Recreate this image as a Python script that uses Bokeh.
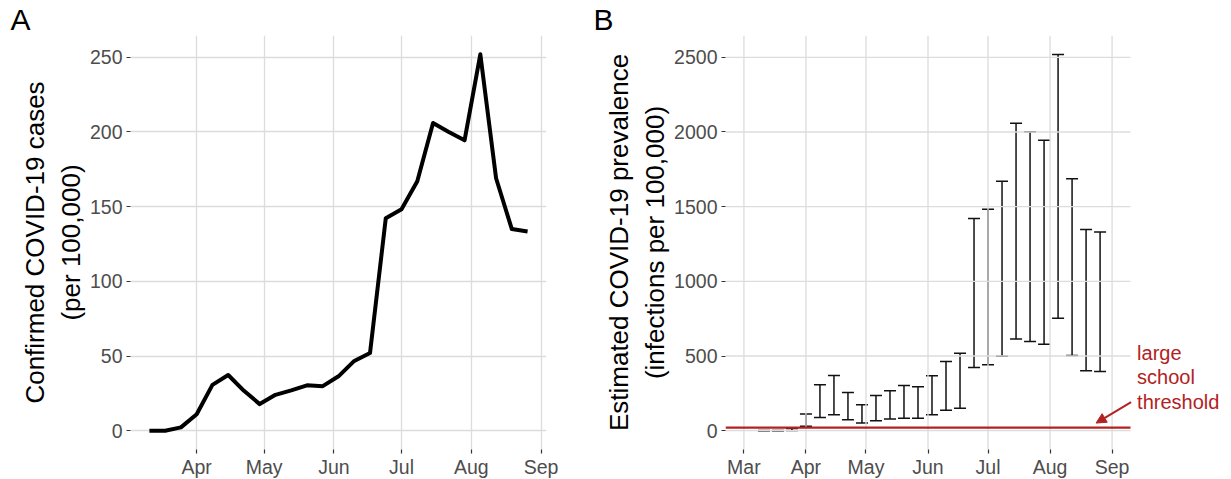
import pandas as pd
from bokeh.plotting import figure
from bokeh.layouts import row
from bokeh.models import (Range1d, FixedTicker, DatetimeTickFormatter, Whisker, TeeHead,
                          ColumnDataSource, Arrow, NormalHead)
from bokeh.core.properties import value
from bokeh.embed import file_html
from bokeh.resources import INLINE

# ---------------- data ----------------
dates = ["2020-03-11", "2020-03-18", "2020-03-25", "2020-04-01", "2020-04-08",
         "2020-04-15", "2020-04-22", "2020-04-29", "2020-05-06", "2020-05-13",
         "2020-05-20", "2020-05-27", "2020-06-03", "2020-06-10", "2020-06-17",
         "2020-06-24", "2020-07-01", "2020-07-08", "2020-07-15", "2020-07-22",
         "2020-07-29", "2020-08-05", "2020-08-12", "2020-08-19", "2020-08-26"]
cases = [0, 0, 2.2, 11, 30.7, 37.3, 26.7, 17.8, 24, 27, 30.4, 29.8, 36.4, 46.7, 52,
         142.2, 148.2, 167, 206, 200, 194.4, 252, 169, 135, 133.3]
prev_lower = [0, 0, 1, 29, 89, 107, 73, 51, 67, 78, 84, 84, 107, 136, 151,
              423, 441, 498, 614, 597, 579, 752, 503, 401, 396]
prev_upper = [2, 2, 17, 111, 307, 369, 256, 174, 236, 267, 303, 294, 367, 463, 518,
              1420, 1483, 1670, 2059, 2001, 1944, 2518, 1687, 1347, 1331]
month_ticks = ["2020-03-01", "2020-04-01", "2020-05-01", "2020-06-01",
               "2020-07-01", "2020-08-01", "2020-09-01"]
ticks_a = [0, 50, 100, 150, 200, 250]
ticks_b = [0, 500, 1000, 1500, 2000, 2500]
threshold = 20
threshold_lines = ["large", "school", "threshold"]
label_a = "Confirmed COVID-19 cases\n(per 100,000)"
label_b = "Estimated COVID-19 prevalence\n(infections per 100,000)"


def ms(s):
    return pd.Timestamp(s).value / 1e6


DAY = 86400000.0
FONT = "Liberation Sans"
RED = "#b22222"
GRID = "#dcdcdc"
BAR = "#111111"

x = [ms(d) for d in dates]
mticks = [ms(d) for d in month_ticks]


def style(p, yticks, letter, offset):
    p.outline_line_color = None
    p.background_fill_color = "white"
    p.border_fill_color = "white"
    for ax in (p.xaxis[0], p.yaxis[0]):
        ax.axis_line_color = None
        ax.major_tick_line_color = "#333333"
        ax.major_tick_line_width = 1.2
        ax.major_tick_out = 4
        ax.major_tick_in = 0
        ax.minor_tick_line_color = None
        ax.major_label_text_color = "#4d4d4d"
        ax.major_label_text_font = FONT
        ax.major_label_text_font_size = "19.5px"
        ax.axis_label_text_font = FONT
        ax.axis_label_text_font_size = "26px"
        ax.axis_label_text_font_style = "normal"
        ax.axis_label_text_color = "black"
    p.xaxis[0].major_label_standoff = 2
    p.yaxis[0].major_label_standoff = 4
    p.yaxis[0].axis_label_standoff = 1
    p.xaxis[0].ticker = FixedTicker(ticks=mticks)
    p.xaxis[0].formatter = DatetimeTickFormatter(
        microseconds="%b", milliseconds="%b", seconds="%b", minsec="%b", minutes="%b",
        hourmin="%b", hours="%b", days="%b", months="%b", years="%b", context=None)
    p.yaxis[0].ticker = FixedTicker(ticks=yticks)
    p.grid.grid_line_color = GRID
    p.grid.grid_line_width = 1.3
    p.grid.minor_grid_line_color = None
    p.title.text = letter
    p.title.align = "left"
    p.title.offset = offset
    p.title.standoff = 0
    p.title.text_font = FONT
    p.title.text_font_size = "30px"
    p.title.text_font_style = "normal"
    p.title.text_color = "black"


# ---------------- panel A ----------------
xa0 = ms(dates[0]) - 8.4 * DAY
xa1 = ms(dates[-1]) + 8.4 * DAY
pa = figure(x_axis_type="datetime", frame_width=416, frame_height=414,
            min_border_left=130, min_border_right=42, min_border_top=33, min_border_bottom=31,
            x_range=Range1d(xa0, xa1), y_range=Range1d(-12.6, 264.6),
            toolbar_location=None, output_backend="svg")
style(pa, ticks_a, "A", -120)
pa.yaxis[0].axis_label = label_a
pa.line(x, cases, line_color="black", line_width=4, line_join="round")

# ---------------- panel B ----------------
xb0 = ms("2020-03-01") - 9.2 * DAY
xb1 = ms("2020-09-01") + 9.2 * DAY
panel_w = 405
extra_w = 95
xb_ext = xb0 + (xb1 - xb0) * (panel_w + extra_w) / panel_w
yb0, yb1 = -126, 2646
pb = figure(x_axis_type="datetime", frame_width=panel_w + extra_w, frame_height=414,
            min_border_left=137, min_border_right=3, min_border_top=33, min_border_bottom=31,
            x_range=Range1d(xb0, xb_ext), y_range=Range1d(yb0, yb1),
            toolbar_location=None, output_backend="svg")
style(pb, ticks_b, "B", -132)
pb.grid.grid_line_color = None
pb.yaxis[0].axis_label = label_b

# grid confined to the panel area (the text sits to the right of it)
vg = [t for t in mticks if xb0 <= t <= xb1]
pb.segment(x0=vg, y0=[yb0] * len(vg), x1=vg, y1=[yb1] * len(vg),
           line_color=GRID, line_width=1.3)
pb.segment(x0=[xb0] * len(ticks_b), y0=ticks_b, x1=[xb1] * len(ticks_b), y1=ticks_b,
           line_color=GRID, line_width=1.3)

src = ColumnDataSource(dict(x=x, lower=prev_lower, upper=prev_upper))
wh = Whisker(base="x", lower="lower", upper="upper", source=src,
             line_color=BAR, line_width=1.5,
             upper_head=TeeHead(size=12, line_color=BAR, line_width=1.5),
             lower_head=TeeHead(size=12, line_color=BAR, line_width=1.5))
pb.add_layout(wh)
pb.segment(x0=[xb0], y0=[threshold], x1=[xb1], y1=[threshold], line_color=RED, line_width=2.2)
pb.add_layout(Arrow(x_start=ms("2020-09-10") + 0.5 * DAY, y_start=191,
                    x_end=ms("2020-08-24"), y_end=51,
                    line_color=RED, line_width=2,
                    end=NormalHead(size=10, fill_color=RED, line_color=RED)))
tx = ms("2020-09-13") + 0.5 * DAY
pb.text(x=[tx] * 3, y=[521, 361, 195], text=threshold_lines,
        text_font=value(FONT), text_font_size="20px", text_color=RED,
        text_baseline="middle", text_align="left")

layout = row(pa, pb)
open("out.html", "w").write(file_html(layout, INLINE))
